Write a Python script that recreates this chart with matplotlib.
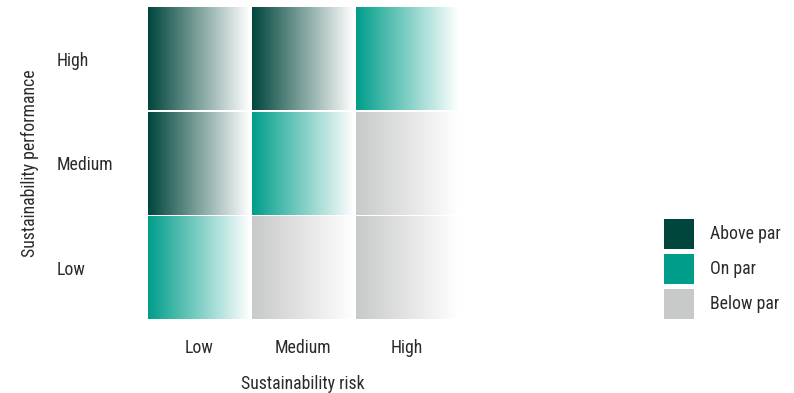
import numpy as np
import matplotlib.pyplot as plt
from matplotlib.colors import to_rgb
from matplotlib.patches import Rectangle

plt.rcParams['font.family'] = ['Roboto Condensed', 'Roboto', 'DejaVu Sans']
plt.rcParams['text.color'] = '#2a2a2a'

# rating levels on both axes
levels = ['Low', 'Medium', 'High']
# category per cell: rows = performance (Low..High), cols = risk (Low..High)
ratings = [
    ['On par', 'Below par', 'Below par'],        # performance Low
    ['Above par', 'On par', 'Below par'],        # performance Medium
    ['Above par', 'Above par', 'On par'],        # performance High
]
legend_labels = ['Above par', 'On par', 'Below par']
legend_colors = ['#00463c', '#009e8a', '#c8c9c9']
palette = dict(zip(legend_labels, legend_colors))

fs = 12.8
fig = plt.figure(figsize=(7.94, 3.93), dpi=100)
ax = fig.add_axes([0.185, 0.186, 0.393, 0.796])

gap = 0.010
t = np.linspace(0, 1, 256)
for r, row in enumerate(ratings):
    for c, cat in enumerate(row):
        base = np.array(to_rgb(palette[cat]))
        # fade from full colour on the left to white on the right
        grad = base[None, :] * (1 - t[:, None]) + np.ones(3)[None, :] * t[:, None]
        ax.imshow(grad[None, :, :], extent=(c + gap, c + 1 - gap, r + gap, r + 1 - gap),
                  aspect='auto', interpolation='bilinear')

ax.set_xlim(0, 3)
ax.set_ylim(0, 3)
ax.set_xticks(np.arange(3) + 0.5)
ax.set_xticklabels(levels, fontsize=fs, color='#2a2a2a')
ax.set_yticks(np.arange(3) + 0.5)
ax.set_yticklabels(levels, fontsize=fs, ha='left', color='#2a2a2a')
ax.tick_params(length=0)
ax.tick_params(axis='x', pad=14)
ax.tick_params(axis='y', pad=65)
for s in ax.spines.values():
    s.set_visible(False)

ax.set_xlabel('Sustainability risk', fontsize=fs, labelpad=13, color='#2a2a2a')
fig.text(0.038, 0.585, 'Sustainability performance', rotation=90,
         ha='center', va='center', fontsize=fs)

# legend: coloured squares with labels to the right
lax = fig.add_axes([664 / 794, 74 / 393, 30 / 794, 100 / 393])
lax.set_xlim(0, 1)
lax.set_ylim(0, 3.35)
lax.axis('off')
for i, (lab, col) in enumerate(zip(legend_labels, legend_colors)):
    y0 = 3.35 - (i + 1) * 1.175 + 0.175
    lax.add_patch(Rectangle((0, y0), 1, 1, facecolor=col, edgecolor='none'))
    lax.text(1.55, y0 + 0.5, lab, fontsize=fs, va='center', ha='left')

fig.savefig('out.png', dpi=100)
